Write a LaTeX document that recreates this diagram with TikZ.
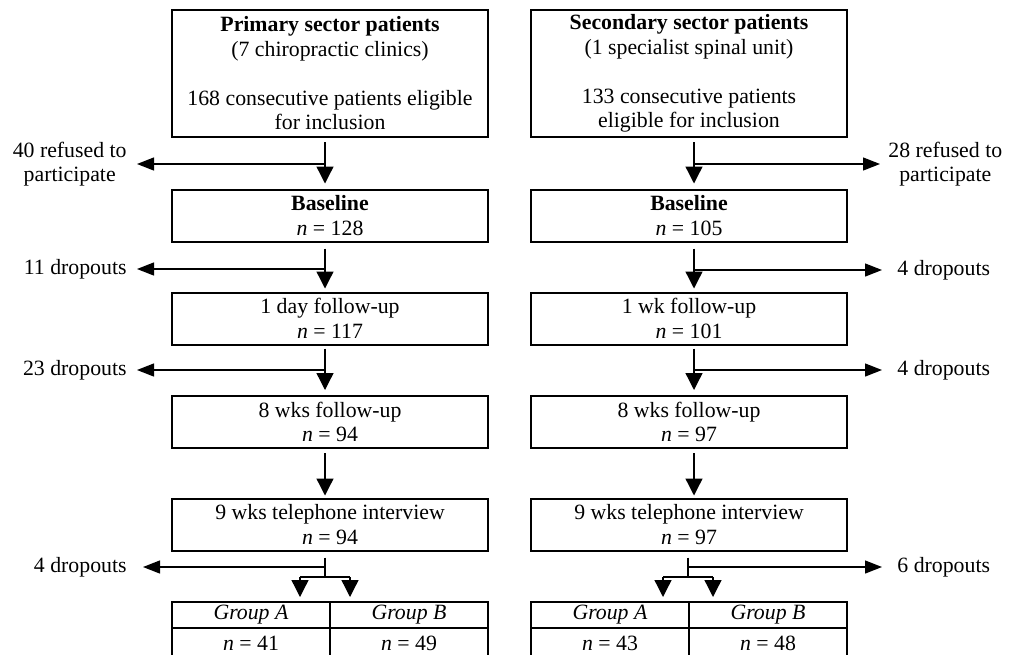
\documentclass[tikz,border=0pt]{standalone}
\usepackage{fontspec}
\setmainfont{Liberation Serif}
\usetikzlibrary{arrows.meta}
\begin{document}
\begin{tikzpicture}[x=0.5pt,y=-0.5pt,
  font=\fontsize{10.9}{12.25}\selectfont,
  box/.style={draw,line width=1pt,minimum width=158pt,inner sep=0pt,align=center},
  cell/.style={draw,line width=1pt,minimum width=79pt,inner sep=0pt},
  conn/.style={line width=0.65pt},
  varr/.style={conn,-{Triangle[length=8.5pt,width=8.5pt]}},
  harr/.style={conn,-{Triangle[length=8.5pt,width=6.5pt]}},
  lbl/.style={inner sep=0pt,align=center}]
\useasboundingbox (0,0) rectangle (1011,654);

% x positions of connectors
\coordinate (xL) at (325,0);
\coordinate (xR) at (694,0);
\coordinate (xR2) at (688,0);

% left column
\node[box,minimum height=63.5pt] (L0) at (330,73.5) {\textbf{Primary sector patients}\\(7 chiropractic clinics)\\[12.25pt]168 consecutive patients eligible\\for inclusion};
\node[box,minimum height=26pt] (L1) at (330,215.5) {\textbf{Baseline}\\\textit{n} = 128};
\node[box,minimum height=26pt] (L2) at (330,318.5) {1 day follow-up\\\textit{n} = 117};
\node[box,minimum height=26pt] (L3) at (330,422) {8 wks follow-up\\\textit{n} = 94};
\node[box,minimum height=26pt] (L4) at (330,524.5) {9 wks telephone interview\\\textit{n} = 94};
\node[cell,minimum height=13pt] (LAh) at (251,615) {\textit{Group A}};
\node[cell,minimum height=13pt] (LBh) at (409,615) {\textit{Group B}};
\node[cell,minimum height=15pt] (LAn) at (251,643) {\textit{n} = 41};
\node[cell,minimum height=15pt] (LBn) at (409,643) {\textit{n} = 49};

% right column
\node[box,minimum height=63.5pt] (R0) at (689,73.5) {\textbf{Secondary sector patients}\\(1 specialist spinal unit)\\[12.25pt]133 consecutive patients\\eligible for inclusion};
\node[box,minimum height=26pt] (R1) at (689,215.5) {\textbf{Baseline}\\\textit{n} = 105};
\node[box,minimum height=26pt] (R2) at (689,318.5) {1 wk follow-up\\\textit{n} = 101};
\node[box,minimum height=26pt] (R3) at (689,422) {8 wks follow-up\\\textit{n} = 97};
\node[box,minimum height=26pt] (R4) at (689,524.5) {9 wks telephone interview\\\textit{n} = 97};
\node[cell,minimum height=13pt] (RAh) at (610,615) {\textit{Group A}};
\node[cell,minimum height=13pt] (RBh) at (768,615) {\textit{Group B}};
\node[cell,minimum height=15pt] (RAn) at (610,643) {\textit{n} = 43};
\node[cell,minimum height=15pt] (RBn) at (768,643) {\textit{n} = 48};

% side labels
\node[lbl,anchor=east] (lL0) at (127,164) {40 refused to\\participate};
\node[lbl,anchor=east] (lL1) at (127,269) {11 dropouts};
\node[lbl,anchor=east] (lL2) at (127,370) {23 dropouts};
\node[lbl,anchor=east] (lL4) at (127,567) {4 dropouts};
\node[lbl,anchor=west] (rL0) at (888,164) {28 refused to\\participate};
\node[lbl,anchor=west] (rL1) at (897,270) {4 dropouts};
\node[lbl,anchor=west] (rL2) at (897,370) {4 dropouts};
\node[lbl,anchor=west] (rL4) at (897,567) {6 dropouts};

% branch points
\coordinate (bL0) at (325,164);
\coordinate (bL1) at (325,269);
\coordinate (bL2) at (325,370);
\coordinate (bL4) at (325,567);
\coordinate (sL) at (325,577);
\coordinate (sLa) at (300,577);
\coordinate (sLb) at (350,577);
\coordinate (bR0) at (694,164);
\coordinate (bR1) at (694,270);
\coordinate (bR2) at (694,370);
\coordinate (bR4) at (688,567);
\coordinate (sR) at (688,577);
\coordinate (sRa) at (663,577);
\coordinate (sRb) at (713,577);

% left vertical flow
\draw[varr,shorten <=2pt,shorten >=2.5pt] (L0.south -| xL) -- (L1.north -| xL);
\draw[varr,shorten <=3pt,shorten >=1.5pt] (L1.south -| xL) -- (L2.north -| xL);
\draw[varr,shorten <=1.5pt,shorten >=2.5pt] (L2.south -| xL) -- (L3.north -| xL);
\draw[varr,shorten <=2pt,shorten >=1pt] (L3.south -| xL) -- (L4.north -| xL);
\draw[conn,shorten <=3pt] (L4.south -| xL) -- (sL);
\draw[conn] (sLa) -- (sLb);
\draw[varr,shorten >=2pt] (sLa) -- (LAh.north -| sLa);
\draw[varr,shorten >=2pt] (sLb) -- (LBh.north -| sLb);

% left side branches
\draw[harr,shorten >=5pt] (bL0) -- (lL0.east);
\draw[harr,shorten >=5pt] (bL1) -- (lL1.east);
\draw[harr,shorten >=5pt] (bL2) -- (lL2.east);
\draw[harr,shorten >=8pt] (bL4) -- (lL4.east);

% right vertical flow
\draw[varr,shorten <=2pt,shorten >=2.5pt] (R0.south -| xR) -- (R1.north -| xR);
\draw[varr,shorten <=3pt,shorten >=1.5pt] (R1.south -| xR) -- (R2.north -| xR);
\draw[varr,shorten <=1.5pt,shorten >=2.5pt] (R2.south -| xR) -- (R3.north -| xR);
\draw[varr,shorten <=2pt,shorten >=1pt] (R3.south -| xR) -- (R4.north -| xR);
\draw[conn,shorten <=3pt] (R4.south -| xR2) -- (sR);
\draw[conn] (sRa) -- (sRb);
\draw[varr,shorten >=2pt] (sRa) -- (RAh.north -| sRa);
\draw[varr,shorten >=2pt] (sRb) -- (RBh.north -| sRb);

% right side branches
\draw[harr,shorten >=4pt] (bR0) -- (rL0.west);
\draw[harr,shorten >=7.5pt] (bR1) -- (rL1.west);
\draw[harr,shorten >=7.5pt] (bR2) -- (rL2.west);
\draw[harr,shorten >=7.5pt] (bR4) -- (rL4.west);
\end{tikzpicture}
\end{document}
